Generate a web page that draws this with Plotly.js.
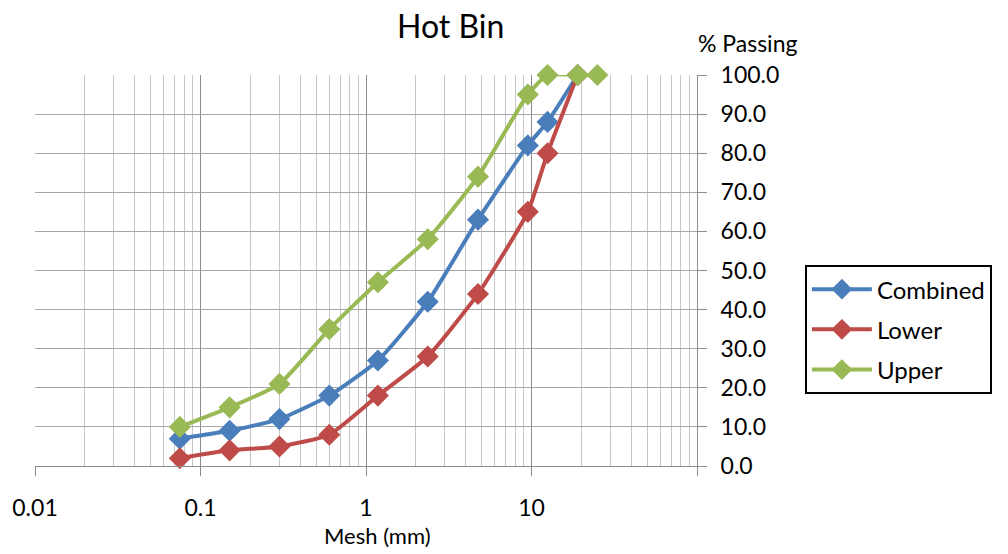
<!DOCTYPE html>
<html><head><meta charset="utf-8">
<script src="https://cdn.plot.ly/plotly-3.0.1.min.js"></script>
<style>html,body{margin:0;padding:0;background:#fff}</style>
</head><body>
<div id="chart" style="width:1008px;height:554px"></div>
<script>
const sieveSizes = [0.075, 0.15, 0.3, 0.6, 1.18, 2.36, 4.75, 9.5, 12.5, 19];
const upperSizes = [0.075, 0.15, 0.3, 0.6, 1.18, 2.36, 4.75, 9.5, 12.5, 19, 25];
const combined = [7, 9, 12, 18, 27, 42, 63, 82, 88, 100];
const lower = [2, 4, 5, 8, 18, 28, 44, 65, 80, 100];
const upper = [10, 15, 21, 35, 47, 58, 74, 95, 100, 100, 100];
const seriesNames = ['Combined', 'Lower', 'Upper'];
const xMajorTicks = [0.01, 0.1, 1, 10, 100];
const xMajorLabels = ['0.01', '0.1', '1', '10', ''];
const yTicks = [0, 10, 20, 30, 40, 50, 60, 70, 80, 90, 100];

const minorTicks = [];
[0.01, 0.1, 1, 10].forEach(d => { for (let k = 2; k <= 9; k++) minorTicks.push(+(d * k).toPrecision(3)); });

const font = 'Lato, "Open Sans", sans-serif';
function tr(x, y, name, color) {
  return {x, y, name, legendgroup: name, type: 'scatter', mode: 'lines+markers', cliponaxis: false,
    line: {color, width: 4, shape: 'spline', smoothing: 0.5},
    marker: {symbol: 'diamond', size: 17, color}};
}
const data = [
  tr(sieveSizes, combined, seriesNames[0], '#4a7ebb'),
  tr(sieveSizes, lower, seriesNames[1], '#be4b48'),
  tr(upperSizes, upper, seriesNames[2], '#98b954')
];
const layout = {
  width: 1008, height: 554,
  margin: {l: 35, r: 311, t: 75, b: 88},
  paper_bgcolor: '#fff', plot_bgcolor: '#fff',
  font: {family: font, size: 23, color: '#000'},
  title: {text: 'Hot Bin', font: {size: 32, family: font, color: '#000'},
    xref: 'paper', x: 0.628, xanchor: 'center', yref: 'container', y: 0.951, yanchor: 'middle'},
  xaxis: {type: 'log', range: [-2, 2], tickmode: 'array', tickvals: xMajorTicks, ticktext: xMajorLabels,
    showgrid: true, gridcolor: '#8c8c8c', gridwidth: 1, zeroline: false,
    ticks: 'outside', ticklen: 9, tickcolor: '#8c8c8c', ticklabelstandoff: 12,
    showline: true, linecolor: '#8c8c8c', linewidth: 1, mirror: false,
    tickfont: {size: 23},
    minor: {tickmode: 'array', tickvals: minorTicks, showgrid: true, gridcolor: '#c6c6c6', gridwidth: 1, ticks: ''}},
  yaxis: {side: 'right', range: [0, 100], tickmode: 'array', tickvals: yTicks,
    ticktext: yTicks.map(v => v.toFixed(1)),
    showgrid: true, gridcolor: '#a6a6a6', zeroline: false,
    ticks: 'outside', ticklen: 9, tickcolor: '#8c8c8c', ticklabelstandoff: 9,
    showline: true, linecolor: '#8c8c8c', tickfont: {size: 23}},
  legend: {x: 1.163, xanchor: 'left', y: 0.514, yanchor: 'top',
    bgcolor: '#fff', bordercolor: '#000', borderwidth: 2,
    font: {size: 24, family: font}, itemwidth: 60, tracegroupgap: 6},
  showlegend: true,
  annotations: [
    {text: '% Passing', xref: 'paper', yref: 'paper', x: (747 - 35) / 662, y: (466 - 43) / 391,
      xanchor: 'center', yanchor: 'middle', showarrow: false, font: {size: 23, family: font}},
    {text: 'Mesh (mm)', xref: 'paper', yref: 'paper', x: (377 - 35) / 662, y: (466 - 551) / 391,
      xanchor: 'center', yanchor: 'bottom', showarrow: false, font: {size: 22, family: font}}
  ]
};
Plotly.newPlot('chart', data, layout, {displayModeBar: false});
</script>
</body></html>
